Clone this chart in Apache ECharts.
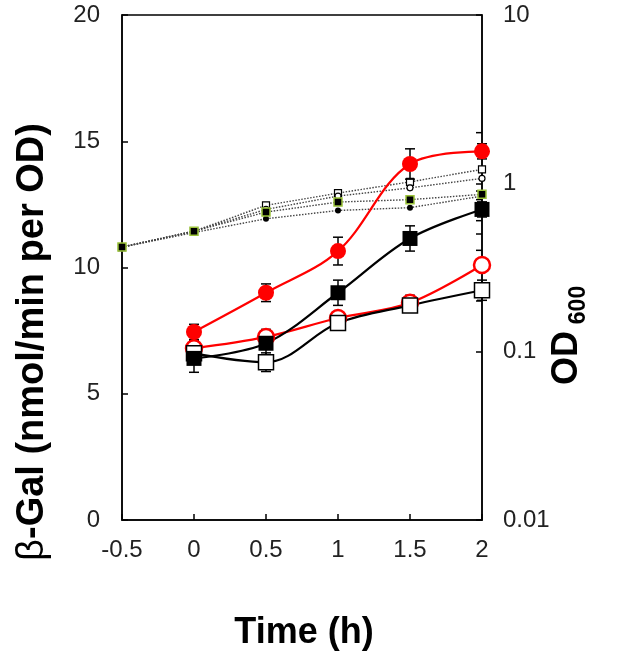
<!DOCTYPE html>
<html>
<head>
<meta charset="utf-8">
<script src="https://cdn.jsdelivr.net/npm/echarts@6/dist/echarts.min.js"></script>
<style>
html,body{margin:0;padding:0;background:#fff;}
#c{width:633px;height:653px;}
</style>
</head>
<body>
<div id="c"></div>
<script>
// ---- data ----
const times = [0, 0.5, 1, 1.5, 2];
const odTimes = [-0.5, 0, 0.5, 1, 1.5, 2];
const xTicks = ['-0.5', '0', '0.5', '1', '1.5', '2'];
const leftTicks = ['0', '5', '10', '15', '20'];
const rightTicks = ['0.01', '0.1', '1', '10'];

// beta-Gal (left axis)
const redFilled = [7.45, 9.0, 10.65, 14.1, 14.6];
const redFilledErr = [0.3, 0.35, 0.55, 0.6, 0.3];
const blackFilled = [6.4, 7.0, 9.0, 11.15, 12.3];
const blackFilledErr = [0.55, 0.5, 0.5, 0.5, 0.3];
const redOpen = [6.8, 7.25, 8.0, 8.6, 10.1];
const redOpenErr = [0.3, 0.3, 0.2, 0.3, 0.2];
const openSq = [6.6, 6.25, 7.8, 8.5, 9.1];
const openSqErr = [0.4, 0.37, 0.2, 0.2, 0.4];

// OD600 (right axis, log)
const odOpenSq = [0.418, 0.52, 0.74, 0.875, 1.02, 1.21];
const odOpenCircle = [0.418, 0.52, 0.70, 0.84, 0.94, 1.07];
const odGreenSq = [0.418, 0.52, 0.675, 0.774, 0.80, 0.86];
const odBlackCircle = [0.418, 0.51, 0.616, 0.69, 0.717, 0.84];

// right-axis minor tick values
const rightMinorTicks = [0.2, 0.3, 0.4, 0.5, 0.6, 0.7, 0.8, 0.9, 2];

// ---- chart ----
const FONT = '"Liberation Sans", Arial, sans-serif';
const chart = echarts.init(document.getElementById('c'), null, {renderer: 'canvas'});

function pairs(xs, ys){ return xs.map((x, i) => [x, ys[i]]); }
function errData(xs, ys, es){ return xs.map((x, i) => [x, ys[i] - es[i], ys[i] + es[i]]); }

function errRender(params, api){
  const x = api.value(0), lo = api.value(1), hi = api.value(2);
  const p1 = api.coord([x, lo]), p2 = api.coord([x, hi]);
  const w = 5;
  const st = {stroke: '#000', lineWidth: 1.5};
  return {type: 'group', children: [
    {type: 'line', shape: {x1: p1[0], y1: p1[1], x2: p2[0], y2: p2[1]}, style: st},
    {type: 'line', shape: {x1: p1[0]-w, y1: p1[1], x2: p1[0]+w, y2: p1[1]}, style: st},
    {type: 'line', shape: {x1: p2[0]-w, y1: p2[1], x2: p2[0]+w, y2: p2[1]}, style: st}
  ]};
}
function minorRender(params, api){
  const p = api.coord([api.value(0), api.value(1)]);
  return {type: 'line', shape: {x1: p[0], y1: p[1], x2: p[0]-6, y2: p[1]}, style: {stroke: '#000', lineWidth: 1.5}};
}

function odSeries(data, symbol, size, color, border, bw){
  return {
    type: 'line', xAxisIndex: 0, yAxisIndex: 1, data: pairs(odTimes, data),
    symbol: symbol, symbolSize: size, showAllSymbol: true,
    lineStyle: {color: '#444', width: 1.4, type: [1.5, 1.5]},
    itemStyle: {color: color, borderColor: border, borderWidth: bw},
    z: 2, animation: false
  };
}

const axisLineStyle = {show: true, onZero: false, lineStyle: {color: '#000', width: 1.5}};
const tickStyle = {show: true, inside: true, length: 6, lineStyle: {color: '#000', width: 1.5}};

const option = {
  animation: false,
  grid: {left: 122, right: 151, top: 15, bottom: 133, show: true, borderColor: '#000', borderWidth: 1.5, backgroundColor: 'transparent'},
  xAxis: [{
    type: 'value', min: -0.5, max: 2, interval: 0.5,
    axisLine: axisLineStyle, axisTick: tickStyle, splitLine: {show: false},
    axisLabel: {margin: 18, color: '#222', fontFamily: FONT, fontSize: 24,
      formatter: v => { const i = Math.round((v + 0.5) / 0.5); return xTicks[i] !== undefined ? xTicks[i] : ''; }}
  }],
  yAxis: [{
    type: 'value', min: 0, max: 20, interval: 5, position: 'left',
    axisLine: axisLineStyle, axisTick: tickStyle, splitLine: {show: false},
    axisLabel: {margin: 22, color: '#222', fontFamily: FONT, fontSize: 24,
      formatter: v => { const i = Math.round(v / 5); return leftTicks[i] !== undefined ? leftTicks[i] : ''; }}
  }, {
    type: 'log', logBase: 10, min: 0.01, max: 10, position: 'right',
    axisLine: axisLineStyle, axisTick: tickStyle, splitLine: {show: false},
    axisLabel: {margin: 21, color: '#222', fontFamily: FONT, fontSize: 24,
      formatter: v => { const i = Math.round(Math.log10(v) + 2); return rightTicks[i] !== undefined ? rightTicks[i] : ''; }}
  }],
  series: [
    {type: 'custom', xAxisIndex: 0, yAxisIndex: 1, data: rightMinorTicks.map(v => [2, v]), renderItem: minorRender, z: 1, silent: true},
    odSeries(odOpenSq, 'rect', 7, '#fff', '#000', 1.2),
    odSeries(odOpenCircle, 'circle', 6, '#fff', '#000', 1.2),
    odSeries(odBlackCircle, 'circle', 6, '#000', '#000', 0),
    odSeries(odGreenSq, 'rect', 8, '#000', '#9bc33a', 1.5),
    {type: 'custom', xAxisIndex: 0, yAxisIndex: 0, data: errData(times, redOpen, redOpenErr), renderItem: errRender, z: 3, silent: true},
    {type: 'custom', xAxisIndex: 0, yAxisIndex: 0, data: errData(times, openSq, openSqErr), renderItem: errRender, z: 3, silent: true},
    {type: 'custom', xAxisIndex: 0, yAxisIndex: 0, data: errData(times, blackFilled, blackFilledErr), renderItem: errRender, z: 3, silent: true},
    {type: 'custom', xAxisIndex: 0, yAxisIndex: 0, data: errData(times, redFilled, redFilledErr), renderItem: errRender, z: 3, silent: true},
    {type: 'line', xAxisIndex: 0, yAxisIndex: 0, data: pairs(times, redOpen), smooth: 0.35,
      symbol: 'circle', symbolSize: 16, lineStyle: {color: '#ff0000', width: 2.2},
      itemStyle: {color: '#fff', borderColor: '#ff0000', borderWidth: 2.5}, z: 4},
    {type: 'line', xAxisIndex: 0, yAxisIndex: 0, data: pairs(times, openSq), smooth: 0.35,
      symbol: 'rect', symbolSize: 15, lineStyle: {color: '#000', width: 2.2},
      itemStyle: {color: '#fff', borderColor: '#000', borderWidth: 1.5}, z: 4},
    {type: 'line', xAxisIndex: 0, yAxisIndex: 0, data: pairs(times, blackFilled), smooth: 0.35,
      symbol: 'rect', symbolSize: 15, lineStyle: {color: '#000', width: 2.2},
      itemStyle: {color: '#000'}, z: 4},
    {type: 'line', xAxisIndex: 0, yAxisIndex: 0, data: pairs(times, redFilled), smooth: 0.35,
      symbol: 'circle', symbolSize: 16, lineStyle: {color: '#ff0000', width: 2.2},
      itemStyle: {color: '#ff0000'}, z: 4}
  ],
  graphic: [
    {type: 'text', x: 33, y: 342, rotation: Math.PI / 2,
      style: {text: '{g|β}{b|-Gal (nmol/min per OD)}', textAlign: 'center', textVerticalAlign: 'middle',
        rich: {g: {fontFamily: FONT, fontSize: 38, fontWeight: 'normal', fill: '#000'},
               b: {fontFamily: FONT, fontSize: 38, fontWeight: 'bold', fill: '#000'}}}},
    {type: 'text', x: 567, y: 358, rotation: Math.PI / 2,
      style: {text: 'OD', font: 'bold 36px ' + FONT, fill: '#000', textAlign: 'center', textVerticalAlign: 'middle'}},
    {type: 'text', x: 579, y: 305, rotation: Math.PI / 2,
      style: {text: '600', font: 'bold 23px ' + FONT, fill: '#000', textAlign: 'center', textVerticalAlign: 'middle'}},
    {type: 'text', x: 304, y: 633,
      style: {text: 'Time (h)', font: 'bold 36px ' + FONT, fill: '#000', textAlign: 'center', textVerticalAlign: 'middle'}}
  ]
};
chart.setOption(option);
</script>
</body>
</html>
